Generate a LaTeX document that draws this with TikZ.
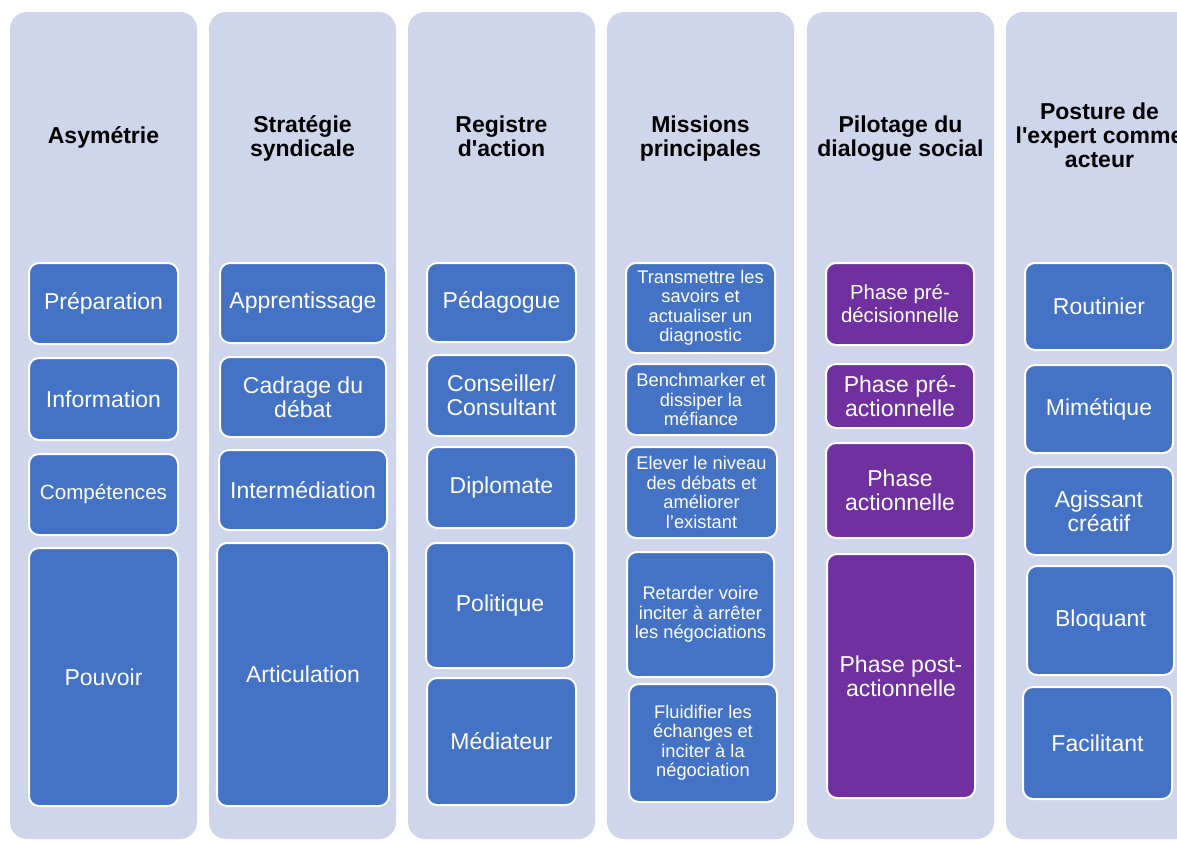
\documentclass[tikz,border=0pt]{standalone}
\usepackage{fontspec}
\setmainfont{Liberation Sans}[Ligatures=TeXOff]
\usepackage{tikz}

\definecolor{colbg}{HTML}{CFD5EA}
\definecolor{boxblue}{HTML}{4472C4}
\definecolor{boxviolet}{HTML}{7030A0}

\begin{document}
\begin{tikzpicture}[
  x=1pt, y=-1pt,
  column/.style={fill=colbg, rounded corners=17pt, minimum width=187pt, minimum height=827pt},
  head/.style={align=center, font=\fontsize{23}{24}\selectfont\bfseries},
  box/.style={draw=white, line width=2pt, fill=boxblue, rounded corners=10pt, text=white, align=center, inner sep=2pt, font=\fontsize{23}{24}\selectfont},
  phase/.style={box, fill=boxviolet},
  small/.style={font=\fontsize{18.3}{19.5}\selectfont}
]
\clip (0,0) rectangle (1177,841);

% columns
\node[column] (c1) at (103.5,425.5) {};
\node[column] (c2) at (302.5,425.5) {};
\node[column] (c3) at (501.5,425.5) {};
\node[column] (c4) at (700.5,425.5) {};
\node[column] (c5) at (900.5,425.5) {};
\node[column] (c6) at (1099.5,425.5) {};

% headers
\node[head] (h1) at (103.5,137) {Asymétrie};
\node[head] (h2) at (302.5,138) {Stratégie\\syndicale};
\node[head] (h3) at (501.5,136) {Registre\\d'action};
\node[head] (h4) at (700.5,139) {Missions\\principales};
\node[head] (h5) at (900.5,139) {Pilotage du\\dialogue social};
\node[head] (h6) at (1099.5,135.5) {Posture de\\l'expert comme\\acteur};

% Asymétrie
\node[box, minimum width=149pt, minimum height=81pt] (prep) at (103.5,303.5) {Préparation};
\node[box, minimum width=149pt, minimum height=82pt] (info) at (103.5,399) {Information};
\node[box, minimum width=149pt, minimum height=81pt, font=\fontsize{20.6}{22}\selectfont] (comp) at (103.5,494.5) {Compétences};
\node[box, minimum width=149pt, minimum height=258pt] (pouv) at (103.5,677) {Pouvoir};

% Stratégie syndicale
\node[box, minimum width=166pt, minimum height=80pt] (appr) at (303,303) {Apprentissage};
\node[box, minimum width=166pt, minimum height=80pt] (cadr) at (303,397) {Cadrage du\\débat};
\node[box, minimum width=168pt, minimum height=80pt] (inter) at (303,490) {Intermédiation};
\node[box, minimum width=172pt, minimum height=263pt] (artic) at (303,674.5) {Articulation};

% Registre d'action
\node[box, minimum width=149pt, minimum height=79pt] (peda) at (501.5,302.5) {Pédagogue};
\node[box, minimum width=149pt, minimum height=81pt] (cons) at (501.5,395.5) {Conseiller/\\Consultant};
\node[box, minimum width=149pt, minimum height=81pt] (dipl) at (501.5,487.5) {Diplomate};
\node[box, minimum width=148pt, minimum height=125pt] (poli) at (500,605.5) {Politique};
\node[box, minimum width=149pt, minimum height=127pt] (medi) at (501.5,741.5) {Médiateur};

% Missions principales
\node[box, small, minimum width=149pt, minimum height=90pt] (trans) at (700.5,308) {Transmettre les\\savoirs et\\actualiser un\\diagnostic};
\node[box, small, minimum width=150pt, minimum height=71pt] (bench) at (701,399.5) {Benchmarker et\\dissiper la\\méfiance};
\node[box, small, minimum width=151pt, minimum height=91pt] (elev) at (701.5,492.5) {Elever le niveau\\des débats et\\améliorer\\l’existant};
\node[box, small, minimum width=147pt, minimum height=125pt] (retar) at (700.5,614.5) {Retarder voire\\inciter à arrêter\\les négociations};
\node[box, small, minimum width=148pt, minimum height=118pt] (fluid) at (703,743) {Fluidifier les\\échanges et\\inciter à la\\négociation};

% Pilotage du dialogue social
\node[phase, minimum width=148pt, minimum height=82pt, font=\fontsize{20.4}{23}\selectfont] (pdec) at (900,304) {Phase pré-\\décisionnelle};
\node[phase, minimum width=148pt, minimum height=64pt] (pact) at (900,396) {Phase pré-\\actionnelle};
\node[phase, minimum width=148pt, minimum height=95pt] (act) at (900,490.5) {Phase\\actionnelle};
\node[phase, minimum width=148pt, minimum height=244pt] (post) at (901,676) {Phase post-\\actionnelle};

% Posture de l'expert
\node[box, minimum width=148pt, minimum height=87pt] (rout) at (1099,306.5) {Routinier};
\node[box, minimum width=148pt, minimum height=88pt] (mime) at (1099,409) {Mimétique};
\node[box, minimum width=148pt, minimum height=88pt] (agis) at (1099,511) {Agissant\\créatif};
\node[box, minimum width=147pt, minimum height=109pt] (bloq) at (1100.5,620.5) {Bloquant};
\node[box, minimum width=149pt, minimum height=112pt] (facil) at (1097.5,743) {Facilitant};
\end{tikzpicture}
\end{document}
